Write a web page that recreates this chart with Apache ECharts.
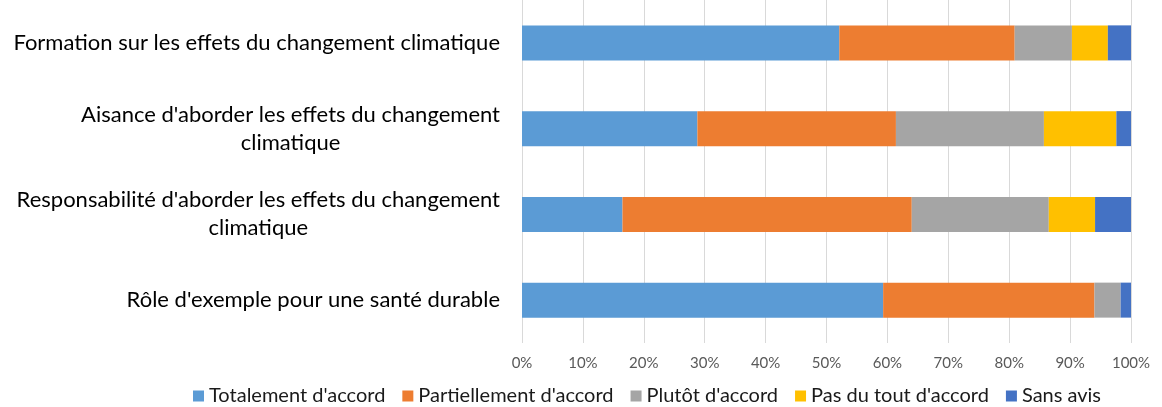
<!DOCTYPE html>
<html>
<head>
<meta charset="utf-8">
<script src="https://cdn.jsdelivr.net/npm/echarts@6/dist/echarts.min.js"></script>
<style>
  html, body { margin: 0; padding: 0; background: #ffffff; }
  #chart { width: 1162px; height: 407px; }
</style>
</head>
<body>
<div id="chart"></div>
<script>
// Statements, listed top to bottom
const categories = [
  "Formation sur les effets du changement climatique",
  "Aisance d'aborder les effets du changement\nclimatique",
  "Responsabilité d'aborder les effets du changement\nclimatique",
  "Rôle d'exemple pour une santé durable"
];

const seriesNames = [
  "Totalement d'accord",
  "Partiellement d'accord",
  "Plutôt d'accord",
  "Pas du tout d'accord",
  "Sans avis"
];

// Share of answers (%) per statement
const totalement    = [52.1, 28.8, 16.5, 59.3];
const partiellement = [28.8, 32.6, 47.5, 34.7];
const plutot        = [9.4, 24.3, 22.5, 4.3];
const pasDuTout     = [5.9, 11.9, 7.6, 0];
const sansAvis      = [3.8, 2.4, 5.9, 1.7];

const tickValues = [0, 10, 20, 30, 40, 50, 60, 70, 80, 90, 100];

const colors = ['#5B9BD5', '#ED7D31', '#A5A5A5', '#FFC000', '#4472C4'];
const values = [totalement, partiellement, plutot, pasDuTout, sansAvis];

const font = 'Lato, "Liberation Sans", sans-serif';

const chart = echarts.init(document.getElementById('chart'), null, { renderer: 'canvas' });

chart.setOption({
  animation: false,
  color: colors,
  textStyle: { fontFamily: font },
  grid: { left: 522, right: 31, top: 0, bottom: 64, containLabel: false },
  legend: {
    bottom: -4,
    left: 188,
    itemWidth: 11,
    itemHeight: 11,
    itemGap: 17,
    icon: 'rect',
    textStyle: { fontFamily: font, fontSize: 20, color: '#1a1a1a' },
    data: seriesNames
  },
  xAxis: {
    type: 'value',
    min: tickValues[0],
    max: tickValues[tickValues.length - 1],
    interval: 10,
    axisLine: { show: false },
    axisTick: { show: false },
    axisLabel: {
      formatter: v => v + '%',
      fontFamily: font,
      fontSize: 15,
      color: '#595959',
      margin: 13
    },
    splitLine: { show: true, lineStyle: { color: '#D9D9D9', width: 1 } }
  },
  yAxis: {
    type: 'category',
    inverse: true,
    data: categories,
    axisLine: { show: false },
    axisTick: { show: false },
    axisLabel: {
      margin: 22,
      formatter: v => v.split('\n').map(s => '{c|' + s + '}').join('\n'),
      rich: {
        c: { fontFamily: font, fontSize: 22, color: '#000000', align: 'center', lineHeight: 28 }
      }
    }
  },
  series: seriesNames.map((name, i) => ({
    name: name,
    type: 'bar',
    stack: 'total',
    barWidth: 35,
    data: values[i],
    itemStyle: { color: colors[i] }
  }))
});
</script>
</body>
</html>
